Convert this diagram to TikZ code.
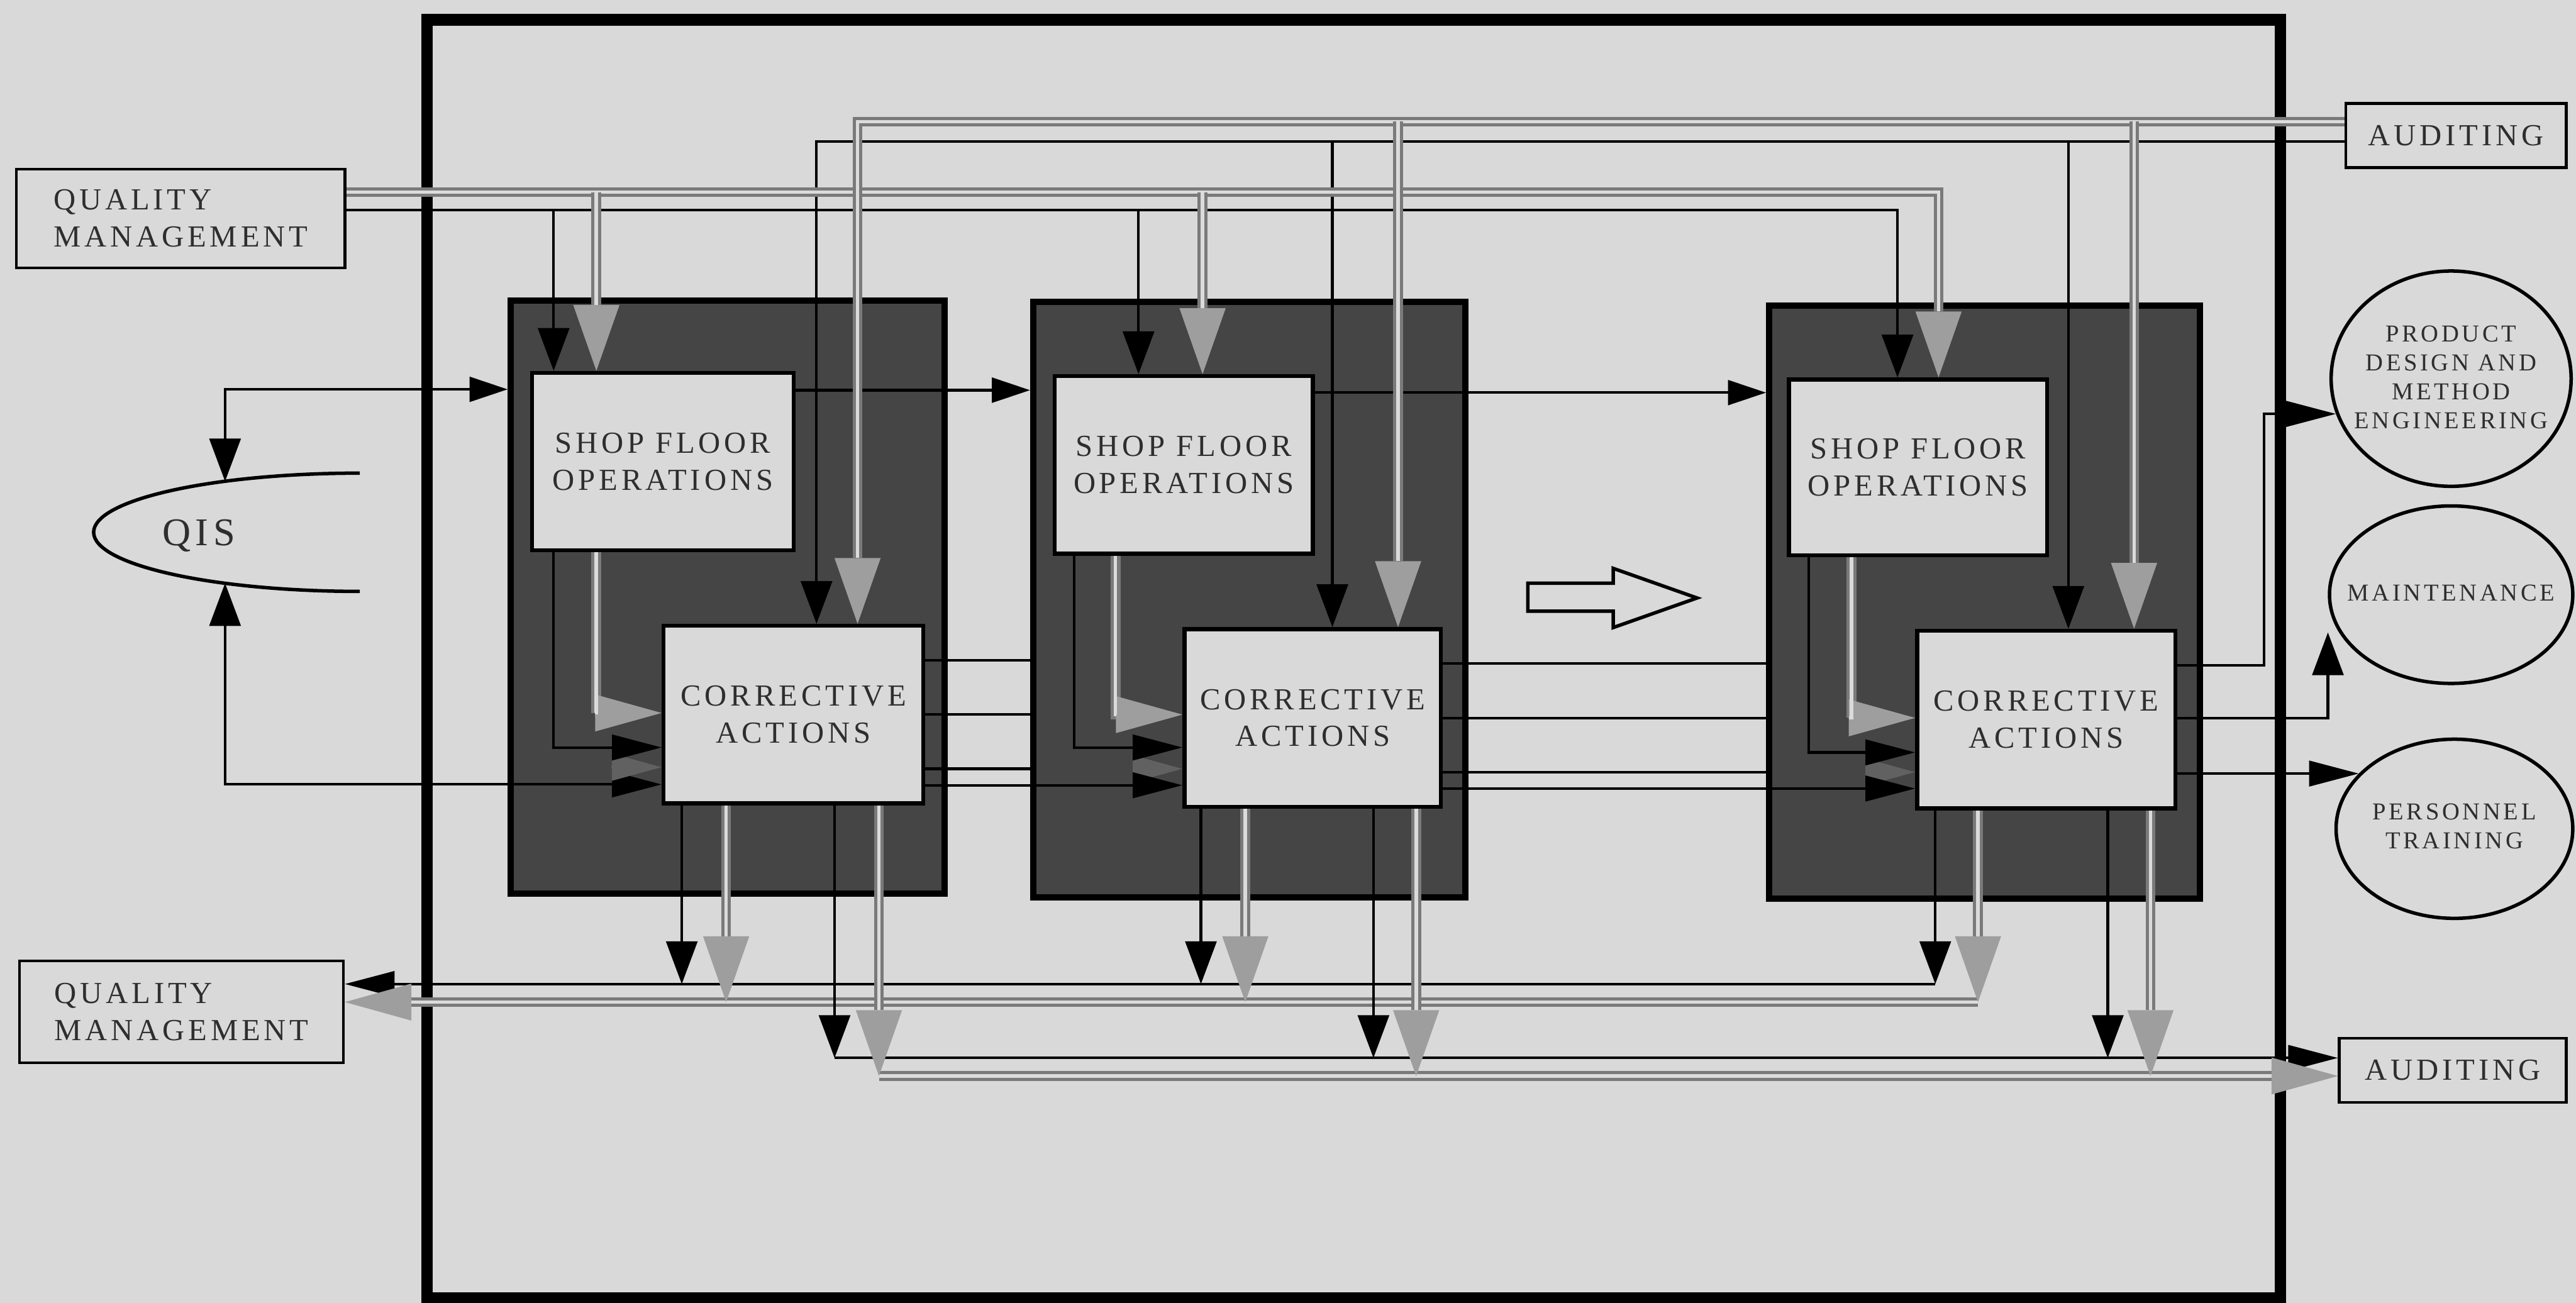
\documentclass[tikz,border=0pt]{standalone}
\usepackage{fontspec}
\setmainfont{Liberation Serif}
\newfontfamily\spc[LetterSpace=12]{Liberation Serif}
\usetikzlibrary{arrows.meta,shapes.geometric}
\pgfdeclarelayer{under}
\pgfdeclarelayer{bg}
\pgfsetlayers{under,bg,main}
\definecolor{paper}{gray}{0.85}
\definecolor{blockc}{gray}{0.27}
\definecolor{ink}{gray}{0.18}
\definecolor{glc}{gray}{0.48}
\definecolor{gin}{gray}{0.86}
\definecolor{gtipc}{gray}{0.62}
\definecolor{dtipc}{gray}{0.38}
\tikzset{
  lab/.style={font=\spc\fontsize{5.3}{6.4}\selectfont, text=ink, align=center},
  slab/.style={font=\spc\fontsize{4.2}{5}\selectfont, text=ink, align=center},
  rbox/.style={draw=black, line width=0.5pt, fill=paper, inner sep=0pt, lab},
  wbox/.style={draw=black, line width=0.7pt, fill=paper, inner sep=0pt, lab},
  oval/.style={ellipse, draw=black, line width=0.6pt, fill=paper, inner sep=0pt},
  blockbox/.style={draw=black, line width=1.1pt, fill=blockc, inner sep=0pt},
  bl/.style={draw=black, line width=0.45pt},
  dk/.style={draw=dtipc, line width=0.45pt},
  tv/.style={-{Triangle[length=7.4pt,width=5.4pt]}},
  th/.style={-{Triangle[length=8.6pt,width=4.4pt]}},
  dth/.style={-{Triangle[length=8.6pt,width=4.6pt,color=dtipc]}},
  gl/.style={draw=glc, line width=1.7pt, postaction={draw=gin, line width=0.6pt, arrows=-}},
  glv/.style={draw=glc, line width=1.7pt, -{Triangle[length=11.4pt,width=8pt,line width=0pt,color=gtipc,fill=gtipc]}, postaction={draw=gin, line width=0.6pt, arrows=-, shorten >=11.4pt}},
  glh/.style={draw=glc, line width=1.7pt, -{Triangle[length=11.5pt,width=6.4pt,line width=0pt,color=gtipc,fill=gtipc]}, postaction={draw=gin, line width=0.6pt, arrows=-, shorten >=11.5pt}},
}
\begin{document}
\begin{tikzpicture}[x=0.01cm,y=-0.01cm]
\begin{pgfonlayer}{under}
\fill[paper] (0,0) rectangle (1568,793);
\end{pgfonlayer}
\useasboundingbox (0,0) rectangle (1568,793);
\begin{pgfonlayer}{bg}
\draw[line width=2pt] (260,12) rectangle (1388,790);
\node[blockbox, minimum width=2.64cm, minimum height=3.61cm] (B1) at (443,363.5) {};
\node[blockbox, minimum width=2.63cm, minimum height=3.62cm] (B2) at (760.5,365) {};
\node[blockbox, minimum width=2.62cm, minimum height=3.61cm] (B3) at (1208,366.5) {};
\end{pgfonlayer}

% outside boxes
\node[rbox, minimum width=2cm, minimum height=0.6cm, align=left] (QMt) at (110,133) {QUALITY\\MANAGEMENT};
\node[rbox, minimum width=1.34cm, minimum height=0.39cm] (AUDt) at (1495,82.5) {AUDITING};
\node[rbox, minimum width=1.97cm, minimum height=0.62cm, align=left] (QMb) at (110.5,616) {QUALITY\\MANAGEMENT};
\node[rbox, minimum width=1.38cm, minimum height=0.39cm] (AUDb) at (1493,651.5) {AUDITING};
\node[oval, minimum width=1.46cm, minimum height=1.31cm] (PDME) at (1492,230.5) {};
\node[slab] (PDMEt) at (1492,229.5) {PRODUCT\\DESIGN AND\\METHOD\\ENGINEERING};
\node[oval, minimum width=1.48cm, minimum height=1.08cm] (MAIN) at (1492,362) {};
\node[slab] (MAINt) at (1492,361) {MAINTENANCE};
\node[oval, minimum width=1.44cm, minimum height=1.09cm] (PT) at (1494,504.5) {};
\node[slab] (PTt) at (1494,503) {PERSONNEL\\TRAINING};

% QIS
\draw[line width=0.6pt] (219,288) arc[start angle=270, end angle=90, x radius=162, y radius=36];
\node[font=\spc\fontsize{6.8}{8}\selectfont, text=ink] (QIS) at (121,326) {QIS};

% work stations
\node[wbox, minimum width=1.59cm, minimum height=1.08cm] (SFO1) at (403.5,281) {SHOP FLOOR\\OPERATIONS};
\node[wbox, minimum width=1.58cm, minimum height=1.08cm] (CA1) at (483,435) {CORRECTIVE\\ACTIONS};
\node[wbox, minimum width=1.57cm, minimum height=1.08cm] (SFO2) at (720.5,283) {SHOP FLOOR\\OPERATIONS};
\node[wbox, minimum width=1.56cm, minimum height=1.08cm] (CA2) at (799,437) {CORRECTIVE\\ACTIONS};
\node[wbox, minimum width=1.57cm, minimum height=1.07cm] (SFO3) at (1167.5,284.5) {SHOP FLOOR\\OPERATIONS};
\node[wbox, minimum width=1.57cm, minimum height=1.08cm] (CA3) at (1245.5,438) {CORRECTIVE\\ACTIONS};

% hollow arrow
\draw[line width=0.6pt, fill=paper, line join=miter] (930,355) -- (982,355) -- (982,346) -- (1033,364) -- (982,382) -- (982,372) -- (930,372) -- cycle;

% QIS connectors
\coordinate (qtop) at (137,293);
\coordinate (qt) at (137,237);
\coordinate (qbot) at (137,355);
\coordinate (qb) at (137,477.5);
\draw[bl, arrows={Triangle[length=7.4pt,width=5.4pt]-Triangle[length=6.6pt,width=4.3pt]}] (qtop) -- (qt) -- (B1.west |- qt);
\draw[bl, arrows={Triangle[length=7.4pt,width=5.4pt]-Triangle[length=8.6pt,width=4.4pt]}] (qbot) -- (qb) -- (CA1.west |- qb);

% station to station
\coordinate (s12) at (600,237.5);
\coordinate (s23) at (1000,239);
\draw[bl,-{Triangle[length=6.6pt,width=4.3pt]}] (SFO1.east |- s12) -- (B2.west |- s12);
\draw[bl,-{Triangle[length=6.6pt,width=4.3pt]}] (SFO2.east |- s23) -- (B3.west |- s23);

% top trunks
\coordinate (qg1) at (363,117); \coordinate (qg2) at (732,117); \coordinate (qg3) at (1180,117);
\coordinate (qk1) at (337,128); \coordinate (qk2) at (693,128); \coordinate (qk3) at (1155,128);
\coordinate (ag1) at (522,74); \coordinate (ag2) at (851,74); \coordinate (ag3) at (1299,74);
\coordinate (ak1) at (497,86); \coordinate (ak2) at (811,86); \coordinate (ak3) at (1259,86);

\draw[bl,tv] (QMt.east |- qk1) -- (qk3) -- (qk3 |- SFO3.north);
\draw[bl,tv] (qk1) -- (qk1 |- SFO1.north);
\draw[bl,tv] (qk2) -- (qk2 |- SFO2.north);
\draw[bl,tv] (AUDt.west |- ak1) -- (ak1) -- (ak1 |- CA1.north);
\draw[bl,tv] (ak2) -- (ak2 |- CA2.north);
\draw[bl,tv] (ak3) -- (ak3 |- CA3.north);
\draw[glv] (QMt.east |- qg1) -- (qg3) -- (qg3 |- SFO3.north);
\draw[glv] (qg1) -- (qg1 |- SFO1.north);
\draw[glv] (qg2) -- (qg2 |- SFO2.north);
\draw[glv] (AUDt.west |- ag1) -- (ag1) -- (ag1 |- CA1.north);
\draw[glv] (ag2) -- (ag2 |- CA2.north);
\draw[glv] (ag3) -- (ag3 |- CA3.north);

% inside the stations
\coordinate (sk1) at (337,455);  \coordinate (sg1) at (363,434);
\coordinate (sk2) at (654,455);  \coordinate (sg2) at (679,435);
\coordinate (sk3) at (1101,458); \coordinate (sg3) at (1127,437);
\coordinate (d1) at (372,467); \coordinate (d2) at (690,468); \coordinate (d3) at (1136,470);
\draw[dk,dth] (d1) -- (CA1.west |- d1);
\draw[dk,dth] (d2) -- (CA2.west |- d2);
\draw[dk,dth] (d3) -- (CA3.west |- d3);
\draw[bl,th] (sk1 |- SFO1.south) |- (CA1.west |- sk1);
\draw[bl,th] (sk2 |- SFO2.south) |- (CA2.west |- sk2);
\draw[bl,th] (sk3 |- SFO3.south) |- (CA3.west |- sk3);
\draw[glh] (sg1 |- SFO1.south) |- (CA1.west |- sg1);
\draw[glh] (sg2 |- SFO2.south) |- (CA2.west |- sg2);
\draw[glh] (sg3 |- SFO3.south) |- (CA3.west |- sg3);

% corrective actions to next station
\coordinate (c1a) at (600,402); \coordinate (c1b) at (600,435); \coordinate (c1c) at (600,468); \coordinate (c1d) at (600,478);
\draw[bl] (CA1.east |- c1a) -- (B2.west |- c1a);
\draw[bl] (CA1.east |- c1b) -- (B2.west |- c1b);
\draw[bl] (CA1.east |- c1c) -- (B2.west |- c1c);
\draw[bl,th] (CA1.east |- c1d) -- (CA2.west |- c1d);
\coordinate (c2a) at (950,404); \coordinate (c2b) at (950,437); \coordinate (c2c) at (950,470); \coordinate (c2d) at (950,480);
\draw[bl] (CA2.east |- c2a) -- (B3.west |- c2a);
\draw[bl] (CA2.east |- c2b) -- (B3.west |- c2b);
\draw[bl] (CA2.east |- c2c) -- (B3.west |- c2c);
\draw[bl,th] (CA2.east |- c2d) -- (CA3.west |- c2d);

% outputs on the right
\coordinate (o1) at (1378,405);
\coordinate (o2) at (1417,437);
\coordinate (mt) at (1417,385);
\draw[bl,th] (CA3.east |- o1) -- (o1) |- (PDME.197);
\draw[bl,tv] (CA3.east |- o2) -- (o2) -- (mt);
\draw[bl,th] (CA3.east |- PT.150) -- (PT.150);

% bottom collectors
\coordinate (bk1) at (415,599); \coordinate (bk2) at (731,599); \coordinate (bk3) at (1178,599);
\coordinate (bg1) at (442,610); \coordinate (bg2) at (758,610); \coordinate (bg3) at (1204,610);
\coordinate (ck1) at (508,644); \coordinate (ck2) at (836,644); \coordinate (ck3) at (1283,644);
\coordinate (cg1) at (535,655); \coordinate (cg2) at (862,655); \coordinate (cg3) at (1309,655);
\draw[bl,th] (bk3) -- (QMb.east |- bk3);
\draw[glh] (bg3) -- (QMb.east |- bg3);
\draw[bl,th] (ck1) -- (AUDb.west |- ck1);
\draw[glh] (cg1) -- (AUDb.west |- cg1);
\foreach \i in {1,2,3} {
  \draw[bl,tv] (bk\i |- CA\i.south) -- (bk\i);
  \draw[glv] (bg\i |- CA\i.south) -- (bg\i);
  \draw[bl,tv] (ck\i |- CA\i.south) -- (ck\i);
  \draw[glv] (cg\i |- CA\i.south) -- (cg\i);
}
\end{tikzpicture}
\end{document}
